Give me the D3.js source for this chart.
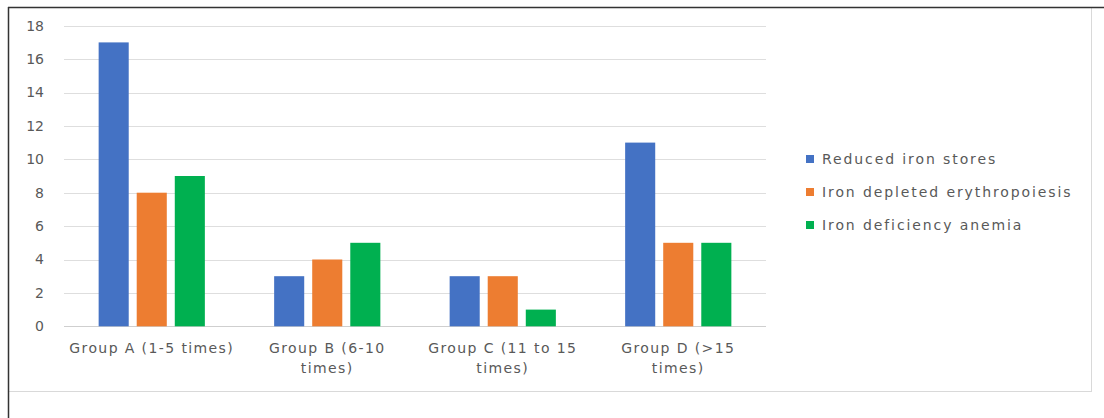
<!DOCTYPE html>
<html>
<head>
<meta charset="utf-8">
<script src="https://cdn.jsdelivr.net/npm/d3@7"></script>
<style>
  html, body { margin: 0; padding: 0; background: #fff; }
  svg { display: block; }
  text { font-family: "DejaVu Sans", sans-serif; fill: #595959; }
</style>
</head>
<body>
<svg id="chart" width="1104" height="418"></svg>
<script>
// Number of donations per group and the iron-status counts observed in each
const categories = [
  ["Group A (1-5 times)"],
  ["Group B (6-10", "times)"],
  ["Group C (11 to 15", "times)"],
  ["Group D (>15", "times)"]
];
const seriesNames = ["Reduced iron stores", "Iron depleted erythropoiesis", "Iron deficiency anemia"];
const reducedIronStores = [17, 3, 3, 11];
const ironDepletedErythropoiesis = [8, 4, 3, 5];
const ironDeficiencyAnemia = [9, 5, 1, 5];
const seriesColors = ["#4472C4", "#ED7D31", "#00B050"];
const yTicks = [0, 2, 4, 6, 8, 10, 12, 14, 16, 18];

const seriesValues = [reducedIronStores, ironDepletedErythropoiesis, ironDeficiencyAnemia];
const svg = d3.select("#chart");

// Outer frame: dark rule on top and left, light box around the chart area
svg.append("rect").attr("x", 8.5).attr("y", 7.5).attr("width", 1083).attr("height", 384)
  .attr("fill", "none").attr("stroke", "#d9d9d9").attr("stroke-width", 1);
svg.append("line").attr("x1", 8).attr("x2", 1104).attr("y1", 7.5).attr("y2", 7.5)
  .attr("stroke", "#333").attr("stroke-width", 1.5);
svg.append("line").attr("x1", 8.5).attr("x2", 8.5).attr("y1", 7).attr("y2", 418)
  .attr("stroke", "#333").attr("stroke-width", 1.5);

const plot = { left: 64, right: 766, top: 25.7, bottom: 326.3 };

const x0 = d3.scaleBand().domain(d3.range(categories.length))
  .range([plot.left, plot.right]).paddingInner(0).paddingOuter(0);
const x1 = d3.scaleBand().domain(d3.range(seriesNames.length))
  .range([0, x0.bandwidth()]).paddingInner(0.21).paddingOuter(0.91);
const y = d3.scaleLinear().domain([0, 18]).range([plot.bottom, plot.top]);

// Horizontal gridlines
svg.append("g").selectAll("line").data(yTicks).join("line")
  .attr("x1", plot.left).attr("x2", plot.right)
  .attr("y1", d => Math.round(y(d)) + 0.5).attr("y2", d => Math.round(y(d)) + 0.5)
  .attr("stroke", d => d === 0 ? "#cfcfcf" : "#dedede").attr("stroke-width", 1.2);

// Y axis labels
const yAxis = d3.axisLeft(y).tickValues(yTicks).tickSize(0).tickPadding(0);
const yg = svg.append("g").attr("transform", `translate(44,0)`).call(yAxis);
yg.select(".domain").remove();
yg.selectAll("text").style("font-size", "14px").attr("fill", "#595959")
  .style("font-family", "'DejaVu Sans', sans-serif");

// Bars
const groups = svg.append("g").selectAll("g").data(categories).join("g")
  .attr("transform", (d, i) => `translate(${x0(i)},0)`);
groups.selectAll("rect")
  .data((d, i) => seriesValues.map((vals, s) => ({ s, v: vals[i] })))
  .join("rect")
  .attr("x", d => x1(d.s))
  .attr("width", x1.bandwidth())
  .attr("y", d => y(d.v))
  .attr("height", d => y(0) - y(d.v))
  .attr("fill", d => seriesColors[d.s]);

// Category labels (wrapped over two lines where needed)
const xl = svg.append("g").selectAll("text").data(categories).join("text")
  .attr("text-anchor", "middle")
  .style("font-size", "14px")
  .attr("transform", (d, i) => `translate(${x0(i) + x0.bandwidth() / 2},353)`);
xl.selectAll("tspan").data(d => d).join("tspan")
  .attr("x", 0).attr("dy", (d, k) => k === 0 ? 0 : 20)
  .attr("letter-spacing", "1.4")
  .text(d => d);

// Legend
const legend = svg.append("g").selectAll("g").data(seriesNames).join("g")
  .attr("transform", (d, i) => `translate(806,${159 + i * 33})`);
legend.append("rect").attr("x", 0).attr("y", -4).attr("width", 8).attr("height", 8)
  .attr("fill", (d, i) => seriesColors[i]);
legend.append("text").attr("x", 16).attr("y", 5)
  .style("font-size", "14px").attr("letter-spacing", "1.9")
  .text(d => d);
</script>
</body>
</html>
